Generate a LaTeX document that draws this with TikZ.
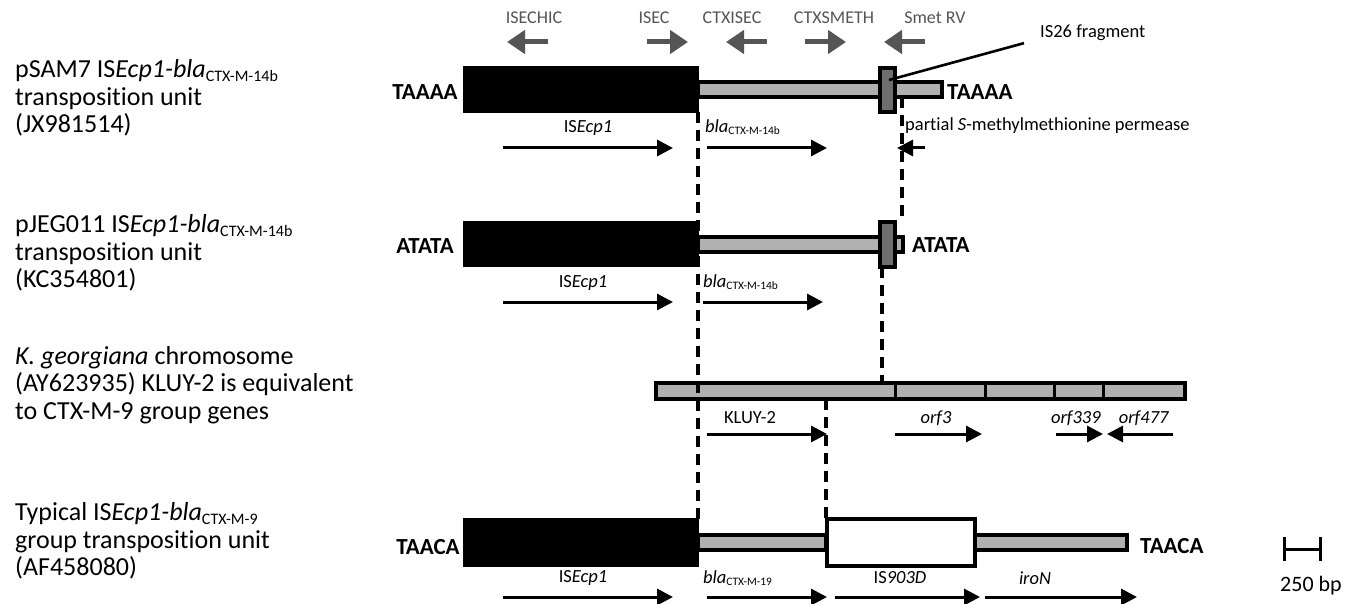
\documentclass[tikz,border=0pt]{standalone}
\usepackage{fontspec}
\usepackage{graphicx}
\setmainfont{Carlito}[Ligatures={NoCommon}]
\usetikzlibrary{arrows.meta,positioning}
\definecolor{barfill}{HTML}{B0B0B0}
\definecolor{isfill}{HTML}{6E6E6E}
\definecolor{primer}{HTML}{555555}
\newcommand{\gsub}[1]{\textsubscript{\scalebox{0.88}{\upshape #1}}}

\tikzset{
  ecpbox/.style={fill=black,draw=black,line width=2pt},
  genebar/.style={fill=barfill,draw=black,line width=3.2pt},
  isbox/.style={fill=isfill,draw=black,line width=3.2pt},
  gene/.style={line width=3pt,-{Triangle[length=16pt,width=16pt]}},
  primerarrow/.style={draw=primer,line width=5pt,-{Triangle[length=18pt,width=23pt]}},
  link/.style={line width=3.4pt,dash pattern=on 11pt off 7pt},
  rowlabel/.style={anchor=west,align=left,font=\fontsize{26}{27.5}\selectfont,inner sep=0pt},
  genelabel/.style={font=\fontsize{18.5}{20}\selectfont,inner sep=0pt},
  site/.style={font=\fontsize{23}{25}\bfseries\selectfont,inner sep=0pt},
  primerlabel/.style={text=primer,font=\fontsize{18}{20}\selectfont,inner sep=0pt}
}

\begin{document}
\begin{tikzpicture}[x=1pt,y=-1pt]
\useasboundingbox[fill=white] (0,0) rectangle (1355,604);

% row titles
\node[rowlabel] (pSAM) at (15,98) {pSAM7 IS\textit{Ecp1-bla}\gsub{CTX-M-14b}\\transposition unit\\(JX981514)};
\node[rowlabel] (pJEG) at (15,253) {pJEG011 IS\textit{Ecp1-bla}\gsub{CTX-M-14b}\\transposition unit\\(KC354801)};
\node[rowlabel] (kgeo) at (15,385) {\textit{K. georgiana} chromosome\\(AY623935) KLUY-2 is equivalent\\to CTX-M-9 group genes};
\node[rowlabel] (typ) at (15,541) {Typical IS\textit{Ecp1-bla}\gsub{CTX-M-9}\\group transposition unit\\(AF458080)};

% primers
\node[primerlabel] (pISECHIC) at (534,18) {ISECHIC};
\node[primerlabel] (pISEC) at (654,18) {ISEC};
\node[primerlabel] (pCTXISEC) at (732,18) {CTXISEC};
\node[primerlabel] (pCTXSMETH) at (834,18) {CTXSMETH};
\node[primerlabel] (pSmet) at (935,18) {Smet RV};
\draw[primerarrow] (548,42) -- (507,42);
\draw[primerarrow] (647,42) -- (688,42);
\draw[primerarrow] (767,42) -- (726,42);
\draw[primerarrow] (805,42) -- (846,42);
\draw[primerarrow] (925,42) -- (884,42);

% pSAM7
\draw[genebar] (698,82) rectangle (942,97);
\draw[ecpbox] (464,67) rectangle (698,112);
\draw[isbox] (880,68) rectangle (895,112);
\node[site] (tA1) at (425,92) {TAAAA};
\node[site,anchor=west] (tA2) at (947,92) {TAAAA};
\node[genelabel,anchor=west] (frag) at (1040,33) {IS26 fragment};
\draw[line width=2.6pt] (889,80) -- ([xshift=-16pt,yshift=-2pt]frag.south west);
\node[genelabel] (ecpA) at (588,128) {IS\textit{Ecp1}};
\node[genelabel,anchor=west] (blaA) at (705,127) {\textit{bla}\gsub{CTX-M-14b}};
\node[genelabel,anchor=west] (smet) at (905,126) {partial \textit{S}-methylmethionine permease};
\draw[gene] (503,148) -- (673,148);
\draw[gene] (707,148) -- (827,148);
\draw[gene] (925,148) -- (897,148);

% pJEG011
\draw[genebar] (698,237) rectangle (903,252);
\draw[ecpbox] (464,222) rectangle (698,266);
\draw[isbox] (880,222) rectangle (895,267);
\node[site] (tB1) at (425,246) {ATATA};
\node[site,anchor=west] (tB2) at (912,245) {ATATA};
\node[genelabel] (ecpB) at (583,283) {IS\textit{Ecp1}};
\node[genelabel,anchor=west] (blaB) at (703,282) {\textit{bla}\gsub{CTX-M-14b}};
\draw[gene] (503,302) -- (673,302);
\draw[gene] (703,302) -- (823,302);

% K. georgiana
\draw[genebar] (656,383) rectangle (1185,399);
\foreach \xd in {895,985,1054,1103}
  \draw[line width=3pt] (\xd,383) -- (\xd,399);
\node[genelabel] (kluy) at (750,418) {KLUY-2};
\node[genelabel] (orf3) at (936,418) {\textit{orf3}};
\node[genelabel] (orf339) at (1076,418) {\textit{orf339}};
\node[genelabel] (orf477) at (1144,418) {\textit{orf477}};
\draw[gene] (707,434) -- (827,434);
\draw[gene] (895,434) -- (982,434);
\draw[gene] (1056,434) -- (1103,434);
\draw[gene] (1173,434) -- (1107,434);

% typical unit
\draw[genebar] (698,535) rectangle (826,550);
\draw[genebar] (975,535) rectangle (1127,550);
\draw[ecpbox] (464,519) rectangle (698,566);
\draw[fill=white,draw=black,line width=3.4pt] (827,519) rectangle (975,566);
\node[site] (tC1) at (428,547) {TAACA};
\node[site,anchor=west] (tC2) at (1140,546) {TAACA};
\node[genelabel] (ecpC) at (583,578) {IS\textit{Ecp1}};
\node[genelabel,anchor=west] (blaC) at (703,578) {\textit{bla}\gsub{CTX-M-19}};
\node[genelabel] (is903) at (900,578) {IS\textit{903D}};
\node[genelabel] (iroN) at (1035,578) {\textit{iroN}};
\draw[gene] (503,597) -- (673,597);
\draw[gene] (707,597) -- (827,597);
\draw[gene] (835,597) -- (980,597);
\draw[gene] (985,597) -- (1137,597);

% scale bar
\draw[line width=3pt] (1284,549) -- (1320,549);
\draw[line width=3pt] (1284,537) -- (1284,561);
\draw[line width=3pt] (1320,537) -- (1320,561);
\node[font=\fontsize{22}{24}\selectfont,inner sep=0pt] (scale) at (1311,586) {250 bp};

% dashed links
\draw[link] (698,112) -- (698,519);
\draw[link] (902,97) -- (902,222);
\draw[link] (882,267) -- (882,383);
\draw[link] (826,399) -- (826,519);
\end{tikzpicture}
\end{document}
